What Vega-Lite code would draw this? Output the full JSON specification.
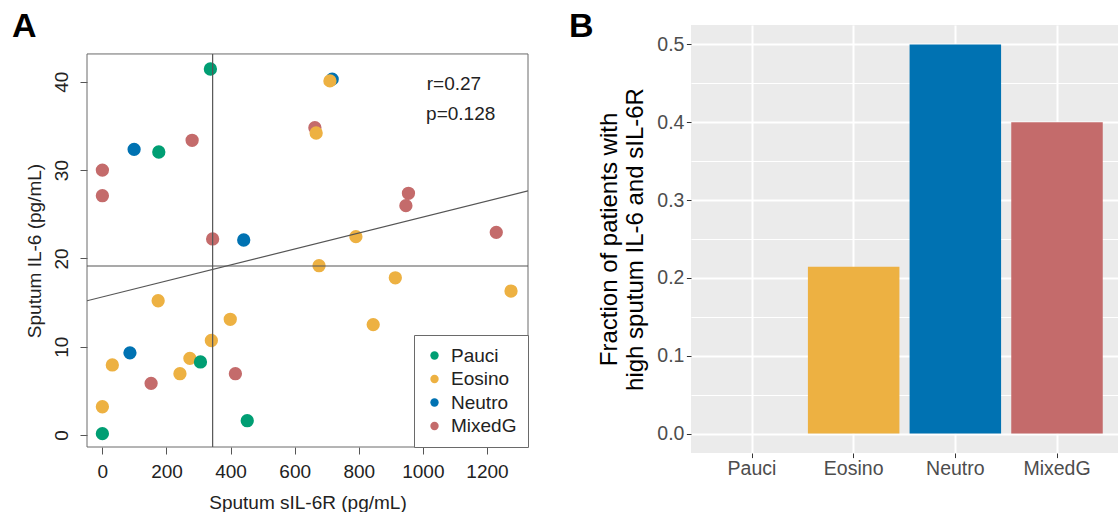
{
  "$schema": "https://vega.github.io/schema/vega-lite/v6.json",
  "padding": {"left": 12, "top": 10, "right": 0, "bottom": 0},
  "background": "white",
  "config": {
    "font": "Liberation Sans"
  },
  "spacing": 40,
  "resolve": {"scale": {"x": "independent", "y": "independent", "color": "independent"}, "legend": {"color": "independent"}},
  "hconcat": [
    {
      "width": 441,
      "height": 422,
      "title": {"text": "A", "anchor": "start", "frame": "group", "offset": -46, "dx": -75, "baseline": "alphabetic", "fontSize": 34, "fontWeight": "bold", "color": "black", "font": "Liberation Sans"},
      "view": {"stroke": null, "fill": "white"},
      "layer": [
        {
          "data": {"values": [{}]},
          "mark": {"type": "rect", "fill": null, "stroke": "#6a6a6a", "strokeWidth": 1},
          "encoding": {
            "x": {"datum": -48, "type": "quantitative"},
            "x2": {"datum": 1328},
            "y": {"datum": -1.36, "type": "quantitative"},
            "y2": {"datum": 43.15}
          }
        },
        {
          "data": {"values": [
            {"x": 717, "y": 40.3, "group": "Neutro"},
            {"x": 99, "y": 32.35, "group": "Neutro"},
            {"x": 441, "y": 22.08, "group": "Neutro"},
            {"x": 86, "y": 9.3, "group": "Neutro"},
            {"x": 280, "y": 33.37, "group": "MixedG"},
            {"x": 0, "y": 30.0, "group": "MixedG"},
            {"x": 0, "y": 27.1, "group": "MixedG"},
            {"x": 344, "y": 22.2, "group": "MixedG"},
            {"x": 663, "y": 34.8, "group": "MixedG"},
            {"x": 955, "y": 27.37, "group": "MixedG"},
            {"x": 947, "y": 25.97, "group": "MixedG"},
            {"x": 1229, "y": 22.95, "group": "MixedG"},
            {"x": 152, "y": 5.85, "group": "MixedG"},
            {"x": 415, "y": 6.94, "group": "MixedG"},
            {"x": 710, "y": 40.1, "group": "Eosino"},
            {"x": 667, "y": 34.2, "group": "Eosino"},
            {"x": 791, "y": 22.46, "group": "Eosino"},
            {"x": 676, "y": 19.17, "group": "Eosino"},
            {"x": 914, "y": 17.8, "group": "Eosino"},
            {"x": 1275, "y": 16.3, "group": "Eosino"},
            {"x": 845, "y": 12.5, "group": "Eosino"},
            {"x": 174, "y": 15.2, "group": "Eosino"},
            {"x": 399, "y": 13.1, "group": "Eosino"},
            {"x": 340, "y": 10.7, "group": "Eosino"},
            {"x": 273, "y": 8.68, "group": "Eosino"},
            {"x": 31, "y": 7.93, "group": "Eosino"},
            {"x": 242, "y": 6.94, "group": "Eosino"},
            {"x": 0, "y": 3.2, "group": "Eosino"},
            {"x": 337, "y": 41.45, "group": "Pauci"},
            {"x": 176, "y": 32.05, "group": "Pauci"},
            {"x": 306, "y": 8.27, "group": "Pauci"},
            {"x": 0, "y": 0.15, "group": "Pauci"},
            {"x": 452, "y": 1.62, "group": "Pauci"}
          ]},
          "mark": {"type": "point", "filled": true, "size": 177, "opacity": 1, "shape": "circle"},
          "encoding": {
            "x": {"field": "x", "type": "quantitative",
              "scale": {"domain": [-48, 1328], "nice": false, "zero": false},
              "axis": {"title": "Sputum sIL-6R (pg/mL)", "values": [0, 200, 400, 600, 800, 1000, 1200], "format": "d", "grid": false, "domain": false,
                "tickColor": "#555", "tickSize": 7, "labelFontSize": 19, "labelColor": "#222", "labelPadding": 8,
                "titleFontSize": 19, "titleFontWeight": "normal", "titleColor": "#222", "titlePadding": 12}},
            "y": {"field": "y", "type": "quantitative",
              "scale": {"domain": [-1.36, 46.43], "nice": false, "zero": false},
              "axis": {"title": "Sputum IL-6 (pg/mL)", "values": [0, 10, 20, 30, 40], "grid": false, "domain": false,
                "tickColor": "#555", "tickSize": 7, "labelFontSize": 19, "labelColor": "#222", "labelAngle": -90,
                "labelAlign": "center", "labelBaseline": "alphabetic", "labelPadding": 12.5,
                "titleFontSize": 19, "titleFontWeight": "normal", "titleColor": "#222", "titlePadding": 8, "titleY": 225.5}},
            "color": {"field": "group", "type": "nominal",
              "scale": {"domain": ["Pauci", "Eosino", "Neutro", "MixedG"], "range": ["#009E73", "#EDB142", "#0072B2", "#C46B6B"]},
              "legend": {"title": null, "orient": "bottom-right", "offset": 0, "strokeColor": "#6a6a6a", "fillColor": "white",
                "padding": 11, "symbolType": "circle", "symbolSize": 70, "symbolStrokeWidth": 0, "labelFontSize": 19,
                "labelColor": "#222", "labelOffset": 7, "rowPadding": 3.5, "labelFont": "Liberation Sans"}}
          }
        },
        {
          "data": {"values": [{"y": 19.14}]},
          "mark": {"type": "rule", "color": "#555", "strokeWidth": 1.2},
          "encoding": {"y": {"field": "y", "type": "quantitative"}}
        },
        {
          "data": {"values": [{"x": 344}]},
          "mark": {"type": "rule", "color": "#555", "strokeWidth": 1.2},
          "encoding": {"x": {"field": "x", "type": "quantitative"}, "y": {"datum": -1.36, "type": "quantitative"}, "y2": {"datum": 43.15}}
        },
        {
          "data": {"values": [{"x": -48, "y": 15.2}, {"x": 1328, "y": 27.65}]},
          "mark": {"type": "line", "color": "#555", "strokeWidth": 1.2, "clip": true},
          "encoding": {"x": {"field": "x", "type": "quantitative"}, "y": {"field": "y", "type": "quantitative"}}
        },
        {
          "data": {"values": [{"label": "r=0.27", "x": 1012, "y": 39.07}, {"label": "p=0.128", "x": 1010, "y": 35.67}]},
          "mark": {"type": "text", "align": "left", "baseline": "alphabetic", "fontSize": 19, "color": "#222", "font": "Liberation Sans"},
          "encoding": {"x": {"field": "x", "type": "quantitative"}, "y": {"field": "y", "type": "quantitative"}, "text": {"field": "label"}}
        }
      ]
    },
    {
      "width": 427,
      "height": 428,
      "title": {"text": "B", "anchor": "start", "frame": "group", "offset": -46, "dx": -122, "baseline": "alphabetic", "fontSize": 34, "fontWeight": "bold", "color": "black", "font": "Liberation Sans"},
      "view": {"fill": "#EBEBEB", "stroke": null},
      "data": {"values": [
        {"group": "Pauci", "frac": 0},
        {"group": "Eosino", "frac": 0.2143},
        {"group": "Neutro", "frac": 0.5},
        {"group": "MixedG", "frac": 0.4}
      ]},
      "mark": {"type": "bar"},
      "encoding": {
        "x": {"field": "group", "type": "nominal", "sort": ["Pauci", "Eosino", "Neutro", "MixedG"],
          "scale": {"paddingInner": 0.1, "paddingOuter": 0.15},
          "axis": {"title": null, "labelAngle": 0, "grid": true, "gridColor": "white", "gridWidth": 2, "bandPosition": 0.5,
            "domain": false, "tickColor": "#333", "tickSize": 4.6, "labelFontSize": 19.5, "labelColor": "#4D4D4D", "labelPadding": 2}},
        "y": {"field": "frac", "type": "quantitative",
          "scale": {"domain": [-0.025, 0.525], "nice": false, "zero": false},
          "axis": {"title": ["Fraction of patients with", "high sputum IL-6 and sIL-6R"],
            "values": [0, 0.05, 0.1, 0.15, 0.2, 0.25, 0.3, 0.35, 0.4, 0.45, 0.5],
            "labelExpr": "round(datum.value*100) % 10 == 0 ? format(datum.value, '.1f') : ''",
            "grid": true, "gridColor": "white",
            "gridWidth": {"condition": {"test": "round(datum.value*100) % 10 != 0", "value": 1.1}, "value": 2},
            "tickOpacity": {"condition": {"test": "round(datum.value*100) % 10 != 0", "value": 0}, "value": 1},
            "domain": false, "tickColor": "#333", "tickSize": 4.6, "labelFontSize": 19.5, "labelColor": "#4D4D4D", "labelPadding": 2.5,
            "titleFontSize": 24, "titleFontWeight": "normal", "titleColor": "black", "titleLineHeight": 26, "titlePadding": 9}},
        "color": {"field": "group", "type": "nominal",
          "scale": {"domain": ["Pauci", "Eosino", "Neutro", "MixedG"], "range": ["#009E73", "#EDB142", "#0072B2", "#C46B6B"]},
          "legend": null}
      }
    }
  ]
}
